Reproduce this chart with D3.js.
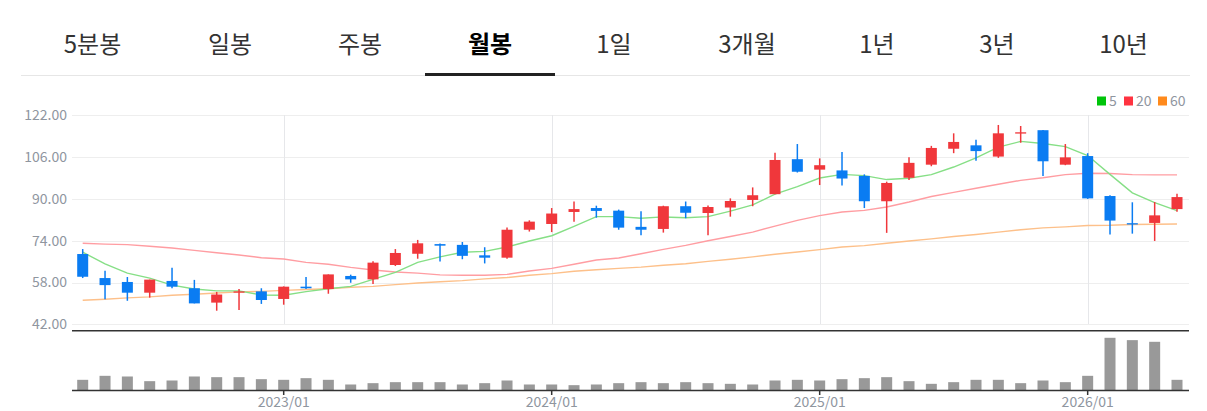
<!DOCTYPE html>
<html><head><meta charset="utf-8">
<script src="https://cdn.jsdelivr.net/npm/d3@7/dist/d3.min.js"></script>
<style>
html,body{margin:0;padding:0;background:#fff;overflow:hidden}
svg{display:block;font-family:"Noto Sans CJK KR","Noto Sans",sans-serif}
</style></head><body><svg id="c" width="1207" height="411"></svg>
<script>
const tabs=["5분봉","일봉","주봉","월봉","1일","3개월","1년","3년","10년"];
const activeTab="월봉";
const priceTicks=[42,58,74,90,106,122];
const dateTicks=[[9,"2023/01"],[21,"2024/01"],[33,"2025/01"],[45,"2026/01"]];
const legendLabels=["5","20","60"];
const highs=[70.8,62.5,60.1,59.1,63.6,59.0,54.4,55.5,55.8,56.5,60.1,61.1,61.0,66.1,70.8,74.3,72.9,73.5,71.5,79.1,81.8,86.5,89.0,87.4,85.9,85.3,87.4,89.0,87.5,90.2,94.4,107.7,111.0,105.5,108.0,99.4,96.6,105.9,110.3,115.1,112.6,118.3,117.9,116.4,111.0,107.5,91.4,88.7,88.8,92.0];
const lows=[59.7,51.6,51.0,52.2,55.8,50.0,47.2,47.5,49.8,49.5,55.5,53.7,57.9,57.4,64.3,67.1,66.0,66.9,65.3,67.1,77.5,77.3,81.3,82.8,78.2,76.1,77.1,82.6,76.1,83.2,87.2,91.8,100.1,95.3,95.1,86.5,77.0,97.2,102.5,107.5,104.6,105.7,111.5,98.8,102.9,90.0,76.4,76.7,73.9,85.1];
const opens=[68.9,59.7,58.2,54.1,58.6,55.8,50.3,54.1,54.6,51.7,56.4,55.5,60.5,59.2,64.7,69.0,72.7,72.4,68.4,67.5,78.2,80.4,85.0,86.5,85.5,79.3,78.5,87.2,84.6,86.7,89.6,91.8,105.2,101.2,100.9,98.8,89.1,98.1,103.1,109.2,110.5,106.2,115.0,116.3,103.1,106.4,91.1,80.7,80.8,86.1];
const closes=[60.2,57.0,54.1,59.1,56.4,50.0,53.4,54.6,51.3,56.4,55.8,61.1,59.2,65.6,69.3,73.0,72.1,68.2,67.5,78.2,81.3,84.4,86.1,85.4,79.0,78.2,87.2,84.7,86.9,89.2,91.4,104.9,100.4,102.9,97.8,89.1,96.1,103.8,109.5,111.8,108.3,115.1,115.5,104.4,105.9,90.2,81.7,80.2,83.7,90.7];
const ma5=[69.6,65.1,61.6,59.7,57.0,55.5,54.8,54.8,53.2,53.1,54.5,55.6,56.5,59.2,61.9,65.7,67.8,69.6,69.9,71.6,73.9,75.9,79.5,83.2,83.2,82.6,83.1,82.8,83.2,85.3,87.7,91.8,94.7,98.0,99.4,98.9,97.4,97.9,99.3,102.2,105.7,109.8,112.0,111.2,110.0,106.6,99.4,92.3,88.6,85.5];
const ma20=[73.0,72.7,72.5,71.9,71.2,70.3,69.4,68.5,67.5,67.0,65.7,65.0,63.8,62.8,62.0,61.6,60.9,60.8,60.8,61.1,62.4,63.4,65.0,66.6,67.4,69.0,70.7,72.2,74.0,75.6,77.3,79.6,81.8,83.6,85.0,85.6,86.9,88.8,90.9,92.5,94.1,95.6,97.1,98.1,99.3,99.8,99.7,99.3,99.2,99.2];
const ma60=[51.2,51.6,52.1,52.5,53.1,53.5,54.0,54.4,54.6,55.0,55.3,55.6,56.2,56.5,57.2,57.8,58.3,58.7,59.4,59.9,60.8,61.4,62.3,62.9,63.4,63.9,64.6,65.2,66.1,66.9,67.8,68.8,69.7,70.6,71.6,72.1,73.0,73.9,74.7,75.6,76.4,77.3,78.2,78.9,79.3,79.8,79.9,80.2,80.3,80.4];
const volumes=[32,44,42,28,30,42,40,40,34,32,37,32,18,22,25,25,25,18,22,30,18,18,16,18,22,25,22,25,22,20,18,30,32,30,34,37,40,28,20,25,32,32,22,30,25,44,158,151,146,32];

const tabX=[92.5,230,360,490,614,747,877,997,1123.5];
const svg=d3.select("#c");
const idx=d3.range(highs.length);
const x=d3.scaleLinear().domain([0,49]).range([82.7,1177]);
const y=d3.scaleLinear().domain([42,122]).range([324.3,115.3]);
const yV=d3.scaleLinear().domain([0,158]).range([390.5,337.8]);
const L=72,R=1189;

// tabs
svg.append("line").attr("x1",21).attr("x2",1190).attr("y1",75.5).attr("y2",75.5).attr("stroke","#e6e6e6");
svg.selectAll("text.tab").data(tabs).join("text").attr("class","tab")
  .attr("x",(d,i)=>tabX[i]).attr("y",53).attr("text-anchor","middle").attr("font-size",24)
  .attr("font-weight",d=>d===activeTab?700:400).attr("fill",d=>d===activeTab?"#000":"#333").text(d=>d);
svg.append("rect").attr("x",425).attr("y",73).attr("width",130).attr("height",3).attr("fill","#222");

// grid + y axis
const yAxis=svg.append("g").attr("transform",`translate(${L},0)`)
  .call(d3.axisLeft(y).tickValues(priceTicks).tickSize(0).tickPadding(5).tickFormat(d3.format(".2f")))
  .attr("font-family",null).attr("font-size",null);
yAxis.select(".domain").remove();
yAxis.selectAll("text").attr("font-size",14).attr("fill","#8f969f");
svg.append("g").selectAll("line").data(priceTicks).join("line")
  .attr("x1",L).attr("x2",R).attr("y1",d=>Math.round(y(d))+.5).attr("y2",d=>Math.round(y(d))+.5).attr("stroke","#eeeeee");
svg.append("g").selectAll("line").data(dateTicks).join("line")
  .attr("x1",d=>Math.round(x(d[0]))+.5).attr("x2",d=>Math.round(x(d[0]))+.5).attr("y1",115).attr("y2",324).attr("stroke","#e6e7ea");

// moving averages
const line=d3.line().x((d,i)=>x(i)).y(d=>y(d));
[[ma60,"#fdc08a"],[ma20,"#ff9da2"],[ma5,"#86df86"]].forEach(([s,c])=>{
  svg.append("path").attr("d",line(s)).attr("fill","none").attr("stroke",c).attr("stroke-width",1.4);
});

// candles
const UP="#f0373b",DOWN="#0a7cf2";
const col=i=>closes[i]>=opens[i]?UP:DOWN;
const g=svg.append("g");
g.selectAll("line").data(idx).join("line")
  .attr("x1",i=>x(i)).attr("x2",i=>x(i)).attr("y1",i=>y(highs[i])).attr("y2",i=>y(lows[i]))
  .attr("stroke",col).attr("stroke-width",1.5);
g.selectAll("rect").data(idx).join("rect")
  .attr("x",i=>x(i)-5.5).attr("width",11)
  .attr("y",i=>y(Math.max(opens[i],closes[i])))
  .attr("height",i=>Math.max(1.2,Math.abs(y(opens[i])-y(closes[i]))))
  .attr("fill",col);

// volume
svg.append("g").selectAll("rect").data(volumes).join("rect")
  .attr("x",(d,i)=>x(i)-5.5).attr("width",11).attr("y",d=>yV(d)).attr("height",d=>yV(0)-yV(d)).attr("fill","#999");

// separators
svg.append("line").attr("x1",L).attr("x2",R).attr("y1",330.7).attr("y2",330.7).attr("stroke","#333").attr("stroke-width",1.6);
const tickScale=d3.scaleOrdinal().domain(dateTicks.map(d=>d[1])).range(dateTicks.map(d=>x(d[0])));
const xAxis=svg.append("g").attr("transform","translate(0,390.5)")
  .call(d3.axisBottom(d3.scalePoint().domain(dateTicks.map(d=>d[1])).range([0,1])).tickSize(0))
  .attr("font-family",null).attr("font-size",null);
xAxis.select(".domain").remove();
xAxis.selectAll(".tick").attr("transform",d=>`translate(${tickScale(d)},0)`);
xAxis.selectAll(".tick line").attr("y2",4.5).attr("stroke","#333").attr("stroke-width",1.5);
xAxis.selectAll("text").attr("y",16.3).attr("dy",null).attr("font-size",14).attr("fill","#8f969f");
svg.append("line").attr("x1",L).attr("x2",R).attr("y1",390.5).attr("y2",390.5).attr("stroke","#333").attr("stroke-width",1.6);

// legend
const legX=[1097,1124,1158],legC=["#00c40a","#ff3340","#ff8a1c"];
legendLabels.forEach((t,i)=>{
  svg.append("rect").attr("x",legX[i]).attr("y",96.5).attr("width",9).attr("height",9).attr("fill",legC[i]);
  svg.append("text").attr("x",legX[i]+12).attr("y",106).attr("font-size",14).attr("fill","#8f969f").text(t);
});
</script></body></html>
